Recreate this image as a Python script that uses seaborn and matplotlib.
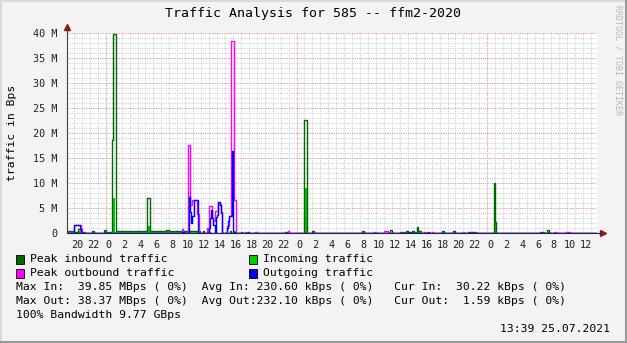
import numpy as np
import pandas as pd
import matplotlib
matplotlib.use("Agg")
import matplotlib.pyplot as plt
import seaborn as sns
from matplotlib.patches import Rectangle
from matplotlib.lines import Line2D
from matplotlib.transforms import ScaledTranslation

# ---------------- data (hours relative to first midnight shown, values in MBps) -------------
X_START, X_END = -4.87, 61.8

# Peak inbound traffic (dark green line)
pin_start = [-4.87, -4.0, -3.5, -3.1, -1.7, -0.2, 0.0, 0.8, 0.95, 1.3, 5.15, 5.6, 7.6, 7.9, 10.3, 10.5,
             12.2, 12.9, 15.6, 16.0, 17.0, 17.8, 22.6, 24.94, 26.0, 32.3, 35.8, 37.0, 37.8, 38.5, 39.1,
             39.3, 42.3, 43.7, 45.6, 48.84, 49.0, 54.6, 55.5]
pin_end = [-4.0, -3.5, -3.1, -2.6, -1.5, 0.0, 0.8, 0.95, 1.3, 5.15, 5.6, 7.6, 7.9, 10.3, 10.5, 11.9,
           12.4, 13.1, 15.8, 16.4, 17.2, 18.0, 22.8, 25.26, 26.2, 32.5, 36.0, 37.4, 38.0, 38.8, 39.3,
           39.6, 42.5, 43.9, 46.6, 49.0, 49.15, 55.1, 55.7]
pin_val = [0.35, 0.3, 0.8, 0.3, 0.5, 0.6, 0.3, 18.6, 39.85, 0.35, 7.0, 0.4, 0.7, 0.45, 0.8, 0.45,
           0.5, 0.3, 0.4, 0.3, 0.3, 0.3, 0.3, 22.6, 0.5, 0.5, 0.7, 0.3, 0.4, 0.5, 1.2,
           0.4, 0.5, 0.5, 0.3, 10.0, 2.3, 0.3, 0.6]

# Incoming traffic (bright green area)
in_start = [-4.87, -3.5, -3.1, -1.7, -0.2, 0.95, 1.2, 5.3, 5.6, 12.2, 15.6, 25.05, 26.0, 32.3, 37.0,
            42.3, 43.7, 45.6, 49.0, 54.6, 55.5]
in_end = [-3.6, -3.1, -2.6, -1.5, 0.0, 1.2, 5.3, 5.6, 12.0, 12.4, 15.8, 25.26, 26.2, 32.5, 39.6,
          42.5, 43.9, 46.6, 49.15, 55.1, 55.7]
in_val = [0.25, 0.4, 0.2, 0.3, 0.4, 7.0, 0.3, 1.4, 0.35, 0.3, 0.2, 9.0, 0.3, 0.2, 0.3,
          0.3, 0.2, 0.2, 2.3, 0.2, 0.3]

# Outgoing traffic (blue line)
out_start = [-4.0, -3.2, 9.6, 10.45, 10.6, 10.75, 10.9, 11.05, 12.95, 13.1, 13.2, 13.35, 13.5, 13.85,
             13.95, 14.15, 14.35, 14.5, 15.2, 15.4, 15.55, 15.85, 16.05, 38.2, 40.5]
out_end = [-3.2, -3.05, 9.8, 10.6, 10.75, 10.9, 11.05, 11.6, 13.1, 13.2, 13.35, 13.5, 13.7, 13.95,
           14.15, 14.35, 14.5, 14.65, 15.4, 15.55, 15.85, 16.05, 16.2, 38.4, 40.7]
out_val = [1.6, 0.8, 0.2, 7.2, 4.3, 2.0, 3.5, 6.6, 1.0, 3.0, 4.7, 3.0, 1.6, 3.3,
           3.6, 6.2, 5.6, 4.0, 1.0, 2.5, 3.5, 16.4, 0.5, 0.2, 0.2]

# Peak outbound traffic (magenta line)
pout_start = [-4.05, -3.1, 7.2, 9.55, 10.4, 10.65, 10.85, 11.45, 12.7, 13.05, 13.35, 13.5, 13.75, 14.1,
              14.45, 15.2, 15.45, 15.82, 16.14, 17.5, 18.8, 22.9, 33.8, 35.0, 40.1, 41.0, 44.9, 56.4,
              57.9]
pout_end = [-3.1, -2.95, 7.4, 9.75, 10.65, 10.85, 11.45, 11.75, 12.9, 13.35, 13.5, 13.75, 14.1, 14.45,
            14.65, 15.45, 15.82, 16.14, 16.33, 17.7, 19.0, 23.1, 34.0, 35.5, 40.3, 41.2, 45.1, 56.6,
            58.4]
pout_val = [1.7, 0.9, 0.3, 0.8, 17.6, 5.6, 6.6, 3.8, 1.0, 5.4, 3.0, 2.4, 4.5, 5.8,
            4.2, 1.5, 3.4, 38.4, 6.6, 0.3, 0.3, 0.4, 0.3, 0.4, 0.3, 0.3, 0.3, 0.3,
            0.3]

y_ticks = [0, 5, 10, 15, 20, 25, 30, 35, 40]
y_labels = ["0", "5 M", "10 M", "15 M", "20 M", "25 M", "30 M", "35 M", "40 M"]
x_ticks = list(range(-4, 62, 2))
x_labels = [str(h % 24) for h in x_ticks]

title = "Traffic Analysis for 585 -- ffm2-2020"
legend_items = [("Peak inbound traffic", "#006600"), ("Incoming traffic", "#00CC00"),
                ("Peak outbound traffic", "#FF00FF"), ("Outgoing traffic", "#0000FF")]
stats_lines = [
    "Max In:  39.85 MBps ( 0%)  Avg In: 230.60 kBps ( 0%)   Cur In:  30.22 kBps ( 0%)",
    "Max Out: 38.37 MBps ( 0%)  Avg Out:232.10 kBps ( 0%)   Cur Out:  1.59 kBps ( 0%)",
    "100% Bandwidth 9.77 GBps",
]
stamp = "13:39 25.07.2021"


def steps(starts, ends, vals):
    t, v = [X_START], [0.0]
    prev_end = X_START
    for s, e, val in sorted(zip(starts, ends, vals)):
        if s > prev_end + 1e-6:
            t.append(prev_end); v.append(0.0)
        t.append(s); v.append(val)
        prev_end = e
    t.append(prev_end); v.append(0.0)
    t.append(X_END); v.append(0.0)
    return pd.DataFrame({"t": t, "v": v})


# ---------------- figure ----------------
sns.set_theme(style="white")
plt.rcParams["font.family"] = ["DejaVu Sans Mono"]
W, H = 627, 343
fig = plt.figure(figsize=(W / 100, H / 100), dpi=100)
fig.patch.set_facecolor("#F3F3F3")
ax = fig.add_axes([67 / W, 110 / H, 530 / W, 200 / H])
ax.set_facecolor("#FFFFFF")
for s in ax.spines.values():
    s.set_visible(False)

ax.set_xlim(X_START, X_END)
ax.set_ylim(0, 40)

# grid
for h in np.arange(-4, 62, 1):
    ax.axvline(h, color="#CFCFCF", lw=0.7, ls=(0, (1.2, 1.2)), zorder=0)
for y in range(1, 41):
    ax.axhline(y, color="#CFCFCF", lw=0.7, ls=(0, (1.2, 1.2)), zorder=0)
for y in y_ticks[1:]:
    ax.axhline(y, color="#F0A0A0", lw=0.7, ls=(0, (1.2, 1.2)), zorder=0.5)
for h in [0, 24, 48]:
    ax.axvline(h, color="#F0A0A0", lw=0.7, ls=(0, (1.2, 1.2)), zorder=0.5)

# data
d_in = steps(in_start, in_end, in_val)
ax.fill_between(d_in["t"], 0, d_in["v"], step="post", color="#00CC00", lw=0, zorder=2)
d_pin = steps(pin_start, pin_end, pin_val)
sns.lineplot(data=d_pin, x="t", y="v", ax=ax, drawstyle="steps-post", estimator=None, sort=False,
             color="#006600", lw=1.0, zorder=3)
d_pout = steps(pout_start, pout_end, pout_val)
sns.lineplot(data=d_pout, x="t", y="v", ax=ax, drawstyle="steps-post", estimator=None, sort=False,
             color="#FF00FF", lw=1.0, zorder=4)
d_out = steps(out_start, out_end, out_val)
sns.lineplot(data=d_out, x="t", y="v", ax=ax, drawstyle="steps-post", estimator=None, sort=False,
             color="#0000FF", lw=1.0, zorder=5)

# axes lines and arrows
ax.plot([0, 0], [0, 1.02], transform=ax.transAxes, color="#404040", lw=0.8, clip_on=False, zorder=6)
ax.plot([0, 1.008], [0, 0], transform=ax.transAxes, color="#202060", lw=0.8, clip_on=False, zorder=6)
ax.plot([0], [1.03], marker="^", ms=4, color="#8B1A1A", transform=ax.transAxes, clip_on=False)
ax.plot([1.012], [0], marker=">", ms=4, color="#8B1A1A", transform=ax.transAxes, clip_on=False)

ax.set_xticks(x_ticks)
ax.set_xticklabels(x_labels, fontsize=7.3, color="#202020")
ax.set_xticks(np.arange(-4, 62, 1), minor=True)
ax.set_yticks(y_ticks)
ax.set_yticklabels(y_labels, fontsize=7.3, color="#202020")
ax.tick_params(axis="x", which="both", direction="out", length=2, width=0.6, color="#606060", pad=3)
ax.tick_params(axis="y", which="major", direction="out", length=2, width=0.6, color="#606060", pad=5)
ax.set_xlabel("")
ax.set_ylabel("")
off = ScaledTranslation(3 / 100, 0, fig.dpi_scale_trans)
for lbl in ax.get_xticklabels():
    lbl.set_transform(lbl.get_transform() + off)


def fx(px):
    return px / W


def fy(py):
    return 1 - py / H


fig.text(fx(313), fy(14), title, ha="center", va="center", fontsize=9.5, color="#000000")
fig.text(fx(12), fy(133), "traffic in Bps", rotation=90, ha="center", va="center", fontsize=8.2,
         color="#000000")
fig.text(fx(618), fy(5), "RRDTOOL / TOBI OETIKER", rotation=270, ha="center", va="top", fontsize=6,
         color="#B8B8B8")

# legend
pos = [(16, 259), (249, 259), (16, 273), (249, 273)]
for (label, col), (px, py) in zip(legend_items, pos):
    fig.patches.append(Rectangle((fx(px), fy(py + 4.5)), 8 / W, 9 / H, transform=fig.transFigure,
                                 facecolor=col, edgecolor="#000000", lw=0.6))
    fig.text(fx(px + 14), fy(py), label, ha="left", va="center", fontsize=8.2, color="#000000")
for i, line in enumerate(stats_lines):
    fig.text(fx(16), fy(287 + 14 * i), line, ha="left", va="center", fontsize=8.2, color="#000000")
fig.text(fx(610), fy(329), stamp, ha="right", va="center", fontsize=8.2, color="#000000")

# frame
fig.add_artist(Line2D([0, 1], [fy(0.5), fy(0.5)], transform=fig.transFigure, color="#DADADA", lw=1.5))
fig.add_artist(Line2D([fx(0.5), fx(0.5)], [0, 1], transform=fig.transFigure, color="#DADADA", lw=1.5))
fig.add_artist(Line2D([0, 1], [fy(342), fy(342)], transform=fig.transFigure, color="#9A9A9A", lw=1.5))
fig.add_artist(Line2D([fx(626), fx(626)], [0, 1], transform=fig.transFigure, color="#9A9A9A", lw=1.5))

fig.savefig("out.png", dpi=100, facecolor=fig.get_facecolor())
